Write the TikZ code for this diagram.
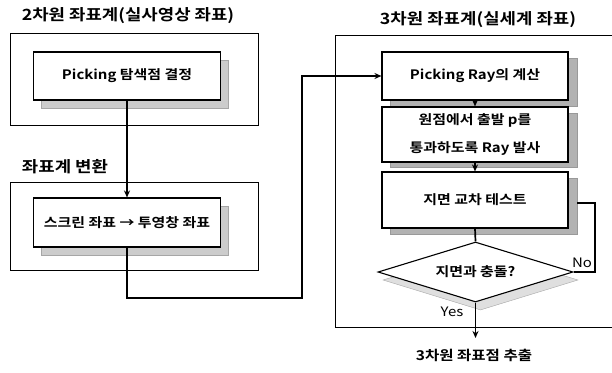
\documentclass[tikz,border=0pt]{standalone}
\usepackage{fontspec}
\setmainfont{Noto Sans CJK KR}[BoldFont={Noto Sans CJK KR Bold},FakeStretch=1.15]
\usetikzlibrary{shapes.geometric,arrows.meta}
\begin{document}
\begin{tikzpicture}[x=1pt,y=-1pt,
  outerbox/.style={draw=black,line width=0.9pt},
  stepbox/.style={draw=black,line width=1.1pt,fill=white,minimum width=187pt,inner sep=0pt,
    font=\fontsize{13}{28}\selectfont\bfseries,align=center},
  lshadow/.style={fill=gray!40,draw=gray!70,line width=0.4pt},
  rshadow/.style={fill=gray!60,draw=gray!80,line width=0.4pt},
  title/.style={font=\fontsize{15.5}{18}\selectfont\bfseries,inner sep=0pt},
  conn/.style={line width=1.7pt},
  arr/.style={line width=1.7pt,-{Stealth[length=7pt,width=6pt]}},
  lbl/.style={font=\fontsize{13}{15}\selectfont,inner sep=0pt}
]
\useasboundingbox (0,0) rectangle (612,372);
% titles
\node[title] (t1) at (128,16) {2차원 좌표계(실사영상 좌표)};
\node[title] (t2) at (65,167) {좌표계 변환};
\node[title] (t3) at (478,20) {3차원 좌표계(실세계 좌표)};
% outer boxes
\draw[outerbox] (10,33) rectangle (258,125);
\draw[outerbox] (10,182) rectangle (258,270);
\draw[outerbox] (616,35) -- (335,35) -- (335,327) -- (616,327);
% left shadows
\fill[lshadow] (41,60) rectangle (228,108);
\fill[lshadow] (41,206) rectangle (228,255);
% right shadows
\fill[rshadow] (390,58) rectangle (577,106);
\fill[rshadow] (390,113) rectangle (577,167);
\fill[rshadow] (390,178) rectangle (577,234);
% left boxes
\node[stepbox,minimum height=48pt] (b1) at (127,76) {Picking 탐색점 결정};
\node[stepbox,minimum height=49pt] (b2) at (127,222.5) {스크린 좌표 → 투영창 좌표};
% right boxes
\node[stepbox,minimum width=186pt,minimum height=48pt] (r1) at (475,76) {Picking Ray의 계산};
\node[stepbox,minimum width=186pt,minimum height=55pt] (r2) at (475,134.5) {원점에서 출발 p를\\통과하도록 Ray 발사};
\node[stepbox,minimum width=186pt,minimum height=56pt] (r3) at (475,200) {지면 교차 테스트};
% diamond
\node[diamond,aspect=3.25,minimum width=195pt,minimum height=60pt,inner sep=0pt,
  fill=gray!25,draw=gray!70,line width=0.4pt] (dsh) at (480.5,280) {};
\node[diamond,aspect=3.25,minimum width=195pt,minimum height=60pt,inner sep=0pt,
  fill=white,draw=black,line width=1.1pt,font=\fontsize{13}{16}\selectfont\bfseries] (d) at (475.5,272) {지면과 충돌?};
% end label
\node[title,font=\fontsize{13.5}{16}\selectfont\bfseries] (end) at (474,355) {3차원 좌표점 추출};
\coordinate (endtip) at (475.5,338);
% connectors
\draw[arr] (b1.south) -- (b2.north);
\draw[arr] (b2.south) -- (127,298) -- (302,298) -- (302,76) -- (r1.west);
\draw[arr] (r1.south) -- (r2.north);
\draw[arr] (r2.south) -- (r3.north);
\draw[conn] (r3.south) -- (d.north);
\draw[conn] (d.east) -- (595,272) -- (595,203) -- (577,203);
\draw[arr] (d.south) -- (endtip);
\node[lbl] (no) at (582,263) {No};
\node[lbl] (yes) at (452,312) {Yes};
\end{tikzpicture}
\end{document}
